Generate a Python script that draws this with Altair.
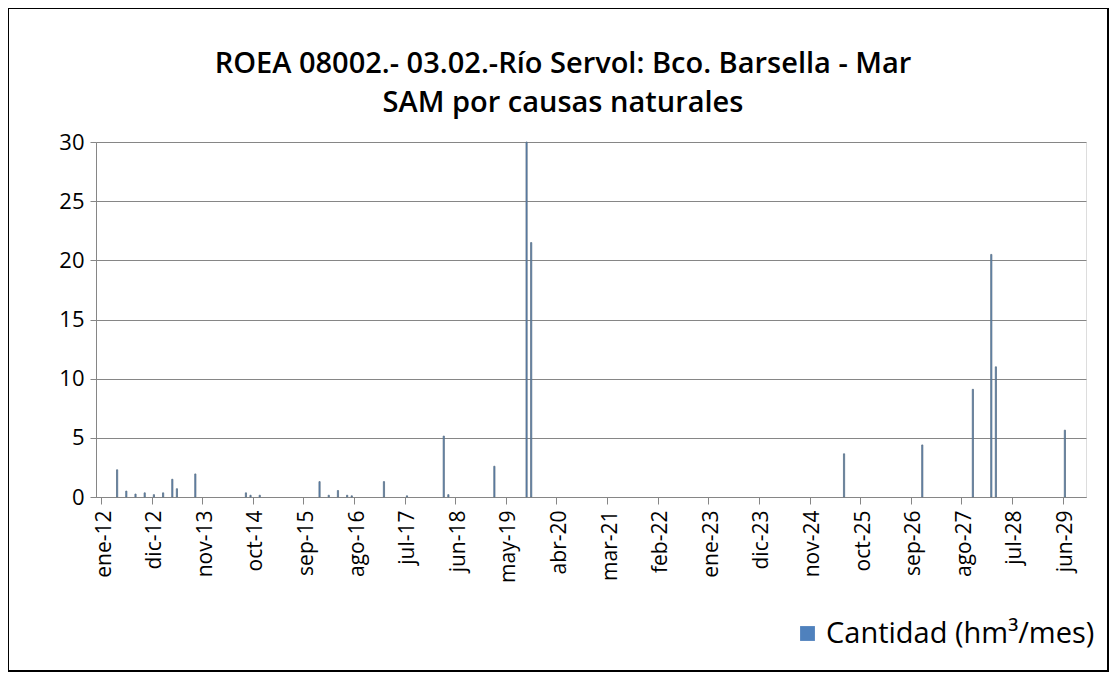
import altair as alt
import pandas as pd

# --- data ---
meses = ["2012-04", "2012-06", "2012-08", "2012-10", "2012-12", "2013-02", "2013-04",
         "2013-05", "2013-09", "2014-08", "2014-09", "2014-11", "2015-12", "2016-02",
         "2016-04", "2016-06", "2016-07", "2017-02", "2017-07", "2018-03", "2018-04",
         "2019-02", "2019-09", "2019-10", "2025-06", "2026-11", "2027-10", "2028-02",
         "2028-03", "2029-06"]
cantidad = [2.3, 0.5, 0.25, 0.35, 0.2, 0.35, 1.5,
            0.7, 1.95, 0.35, 0.15, 0.15, 1.3, 0.15,
            0.55, 0.15, 0.1, 1.3, 0.1, 5.15, 0.2,
            2.6, 30.0, 21.5, 3.65, 4.4, 9.1, 20.5,
            11.0, 5.65]
etiquetas_x = ["ene-12", "dic-12", "nov-13", "oct-14", "sep-15", "ago-16", "jul-17",
               "jun-18", "may-19", "abr-20", "mar-21", "feb-22", "ene-23", "dic-23",
               "nov-24", "oct-25", "sep-26", "ago-27", "jul-28", "jun-29"]
inicio_anio = 2012
paso_etiquetas = 11
n_meses = 213
serie = "Cantidad (hm³/mes)"
titulo_1 = "ROEA 08002.- 03.02.-Río Servol: Bco. Barsella - Mar"
titulo_2 = "SAM por causas naturales"

df = pd.DataFrame({"mes": meses, "valor": cantidad})
df["idx"] = df["mes"].apply(lambda s: (int(s[:4]) - inicio_anio) * 12 + int(s[5:]) - 1)
df["centro"] = df["idx"] + 0.5
df["serie"] = serie

tick_vals = [i * paso_etiquetas for i in range(len(etiquetas_x))]
label_expr = "[" + ",".join("'%s'" % e for e in etiquetas_x) + "][round(datum.value/%d)]" % paso_etiquetas

FONT = "Open Sans"
GRIS = "#868686"
W, H = 990, 355

bars = alt.Chart(df).mark_bar(size=1.2, stroke="#5f7386", strokeWidth=0.8).encode(
    x=alt.X("centro:Q",
            scale=alt.Scale(domain=[0, n_meses], nice=False, zero=False),
            axis=alt.Axis(values=tick_vals, labelExpr=label_expr, title=None,
                          labelAngle=-90, labelAlign="right", labelBaseline="middle",
                          labelFontSize=21, labelFont=FONT, labelColor="black",
                          labelPadding=6, labelOffset=3,
                          tickSize=7, tickColor=GRIS, domainColor=GRIS, grid=False,
                          labelOverlap=False)),
    y=alt.Y("valor:Q",
            scale=alt.Scale(domain=[0, 30], nice=False),
            axis=alt.Axis(values=[0, 5, 10, 15, 20, 25, 30], title=None,
                          labelFontSize=22, labelFont=FONT, labelColor="black",
                          labelPadding=6, tickSize=6, tickColor=GRIS, domainColor=GRIS,
                          grid=True, gridColor=GRIS, gridWidth=1)),
    color=alt.Color("serie:N",
                    scale=alt.Scale(domain=[serie], range=["#4F81BD"]),
                    legend=alt.Legend(title=None, orient="none", legendX=697, legendY=477,
                                      symbolType="square", symbolSize=220,
                                      symbolStrokeWidth=0,
                                      labelFontSize=29, labelFont=FONT, labelColor="black",
                                      labelLimit=400)),
)

frame = alt.Chart(pd.DataFrame({"a": [0]})).mark_rect(
    fill=None, stroke="black", strokeWidth=2
).encode(
    x=alt.value(-88), x2=alt.value(W + 22),
    y=alt.value(-134), y2=alt.value(H + 174),
)

tdf = pd.DataFrame({"linea": [titulo_1, titulo_2], "orden": [1, 2]})


def title_line(n, ypos):
    return alt.Chart(tdf).transform_filter(alt.datum.orden == n).mark_text(
        font=FONT, fontSize=29, fontWeight=600, color="black", align="center",
        baseline="alphabetic"
    ).encode(text="linea:N", x=alt.value(467), y=alt.value(ypos))


chart = alt.layer(frame, bars, title_line(1, -69), title_line(2, -30)).properties(
    width=W, height=H,
    autosize=alt.AutoSizeParams(type="none"),
    padding={"left": 88, "top": 134, "right": 23, "bottom": 175},
).configure_view(stroke=None).configure(background="white")

chart.save("out.html", embed_options={"renderer": "svg", "actions": False})
